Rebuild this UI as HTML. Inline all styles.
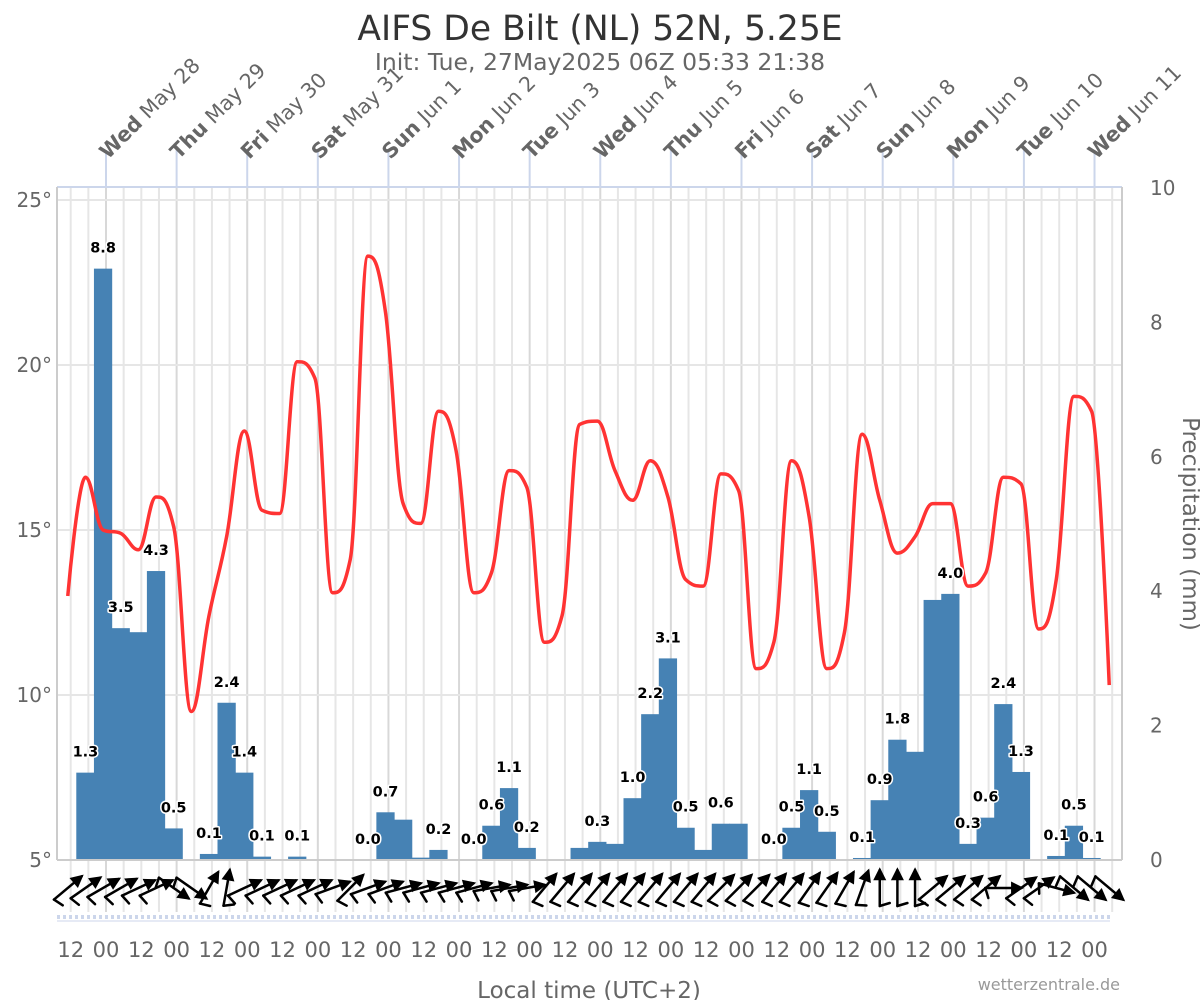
<!DOCTYPE html>
<html><head><meta charset="utf-8">
<style>
html,body{margin:0;padding:0;background:#fff;}
svg text{font-family:"DejaVu Sans","Liberation Sans",sans-serif;}
</style></head>
<body>
<svg id="chart" width="1200" height="1000" viewBox="0 0 1200 1000" xmlns="http://www.w3.org/2000/svg">
  <text x="600" y="40" text-anchor="middle" font-size="34.5" fill="#333">AIFS De Bilt (NL) 52N, 5.25E</text>
  <text x="600" y="70" text-anchor="middle" font-size="23.5" fill="#666">Init: Tue, 27May2025 06Z 05:33 21:38</text>
  <g id="grid"></g>
  <g id="bars"></g>
  <g id="line"></g>
  <g id="labels"></g>
  <g id="wind"></g>
  <g id="axes"></g>
  <text x="589" y="998" text-anchor="middle" font-size="23" fill="#666">Local time (UTC+2)</text>
  <text x="1120" y="990" text-anchor="end" font-size="16" fill="#999">wetterzentrale.de</text>
  <text x="1183" y="524" text-anchor="middle" font-size="23" fill="#666" transform="rotate(90 1183 524)">Precipitation (mm)</text>
</svg>
<script>
const dayNames = ["Wed","Thu","Fri","Sat","Sun","Mon","Tue","Wed","Thu","Fri","Sat","Sun","Mon","Tue","Wed"];
const dayDates = ["May 28","May 29","May 30","May 31","Jun 1","Jun 2","Jun 3","Jun 4","Jun 5","Jun 6","Jun 7","Jun 8","Jun 9","Jun 10","Jun 11"];
const tempTicks = [5,10,15,20,25];
const precipTicks = [0,2,4,6,8,10];
const precipValues = [1.3,8.8,3.45,3.39,4.3,0.47,0,0.09,2.34,1.3,0.05,0,0.05,0,0,0,0,0.71,0.6,0.035,0.15,0,0,0.51,1.07,0.18,0,0,0.18,0.27,0.24,0.92,2.17,3.0,0.48,0.15,0.54,0.54,0,0,0.48,1.04,0.42,0,0.03,0.89,1.79,1.61,3.87,3.96,0.24,0.63,2.32,1.31,0,0.06,0.51,0.03];
const precipLabels = ["1.3","8.8","3.5",null,"4.3","0.5",null,"0.1","2.4","1.4","0.1",null,"0.1",null,null,null,"0.0","0.7",null,null,"0.2",null,"0.0","0.6","1.1","0.2",null,null,null,"0.3",null,"1.0","2.2","3.1","0.5",null,"0.6",null,null,"0.0","0.5","1.1","0.5",null,"0.1","0.9","1.8",null,null,"4.0","0.3","0.6","2.4","1.3",null,"0.1","0.5","0.1"];
const tempValues = [13.0,16.6,15.0,14.9,14.4,16.0,15.1,9.5,12.4,14.8,18.0,15.6,15.5,20.1,19.6,13.1,14.1,23.3,21.6,15.8,15.2,18.6,17.4,13.1,13.7,16.8,16.3,11.6,12.4,18.2,18.3,16.8,15.9,17.1,16.0,13.5,13.3,16.7,16.2,10.8,11.6,17.1,15.4,10.8,11.9,17.9,15.9,14.3,14.8,15.8,15.8,13.3,13.7,16.6,16.4,12.0,13.5,19.05,18.6,10.3];
const windDir = [40,35,30,30,25,25,-35,-35,60,80,25,25,25,25,25,20,45,20,20,15,15,15,15,15,10,10,10,50,50,50,50,50,50,50,50,50,50,45,45,45,50,50,55,55,60,70,90,90,90,40,40,40,40,0,35,35,-15,-40,-40,-40];

const NS="http://www.w3.org/2000/svg";
function X(h){return 35.4+2.942*h;}
function YT(t){return 860-(t-5)*33.0;}
function YP(p){return 860-p*67.2;}
function mk(tag,attrs,parent){const e=document.createElementNS(NS,tag);for(const k in attrs)e.setAttribute(k,attrs[k]);parent.appendChild(e);return e;}
const grid=document.getElementById('grid'),axes=document.getElementById('axes');
const L=57,R=1122,T=187,B=860;

for(let h=12;X(h)<R;h+=6){
  const x=X(h);
  const ln=mk('line',{x1:x,y1:T,x2:x,y2:912,stroke:(h%24===0)?'#d8d8d8':'#e6e6e6','stroke-width':2},grid);
  
  
}
tempTicks.forEach(t=>{
  const y=YT(t);
  const ln=mk('line',{x1:L,y1:y,x2:R,y2:y,stroke:'#e6e6e6','stroke-width':2},grid);
  
  
  const tx=mk('text',{x:52,y:y+7,'text-anchor':'end','font-size':20,fill:'#666'},axes);
  tx.textContent=t+'°';
  
  
});
precipTicks.forEach(p=>{
  const y=YP(p);
  const tx=mk('text',{x:1150,y:y+7,'text-anchor':'start','font-size':20,fill:'#666'},axes);
  tx.textContent=p;
  
  
});
mk('line',{x1:L,y1:T,x2:R,y2:T,stroke:'#ccd6eb','stroke-width':2},axes);
mk('line',{x1:L,y1:T,x2:L,y2:B,stroke:'#ccc','stroke-width':2},axes);
mk('line',{x1:R,y1:T,x2:R,y2:B,stroke:'#ccc','stroke-width':2},axes);
mk('line',{x1:L,y1:B,x2:R,y2:B,stroke:'#ccc','stroke-width':2},axes);
mk('line',{x1:L,y1:917,x2:1110,y2:917,stroke:'#ccd6eb','stroke-width':4,'stroke-dasharray':'3,3'},axes);
mk('line',{x1:L,y1:921,x2:1110,y2:921,stroke:'#ccd6eb','stroke-width':1},axes);
dayNames.forEach((d,i)=>{
  const x=X(24*(i+1));
  const tk=mk('line',{x1:x,y1:150,x2:x,y2:T,stroke:'#ccd6eb','stroke-width':2},axes);
  
  
  const tx=mk('text',{x:x+2,y:160,'font-size':20.5,fill:'#666',transform:`rotate(-45 ${x+2} 160)`},axes);
  
  
  const b=mk('tspan',{'font-weight':'bold'},tx);b.textContent=d;
  const s=mk('tspan',{},tx);s.textContent=' '+dayDates[i];
});
for(let h=12;h<=24*15;h+=12){
  const tx=mk('text',{x:X(h),y:957,'text-anchor':'middle','font-size':21,fill:'#666'},axes);
  tx.textContent=(h%24===0)?'00':'12';
  
  
}
const bars=document.getElementById('bars'),labels=document.getElementById('labels');
precipValues.forEach((v,i)=>{
  const x0=X(14+6*i),x1=X(20+6*i),y=YP(v);
  if(v>0){
    const r=mk('rect',{x:x0-0.3,y:y,width:x1-x0+0.6,height:B-y,fill:'#4682b4'},bars);
    
    
  }
  if(precipLabels[i]){
    const tx=mk('text',{x:(x0+x1)/2,y:y-16,'text-anchor':'middle','font-size':14.5,'font-weight':'bold',fill:'#000',stroke:'#fff','stroke-width':3,'paint-order':'stroke','stroke-linejoin':'round'},labels);
    tx.textContent=precipLabels[i];
    
    
  }
});
const pts=tempValues.map((t,k)=>[X(11+6*k),YT(t)]);
function cont(i){
  const p=pts[i],l=pts[i-1],n=pts[i+1];
  if(!l||!n)return [p[0],p[1],p[0],p[1]];
  const s=1.5,d=2.5;
  let lx=(s*p[0]+l[0])/d,ly=(s*p[1]+l[1])/d,rx=(s*p[0]+n[0])/d,ry=(s*p[1]+n[1])/d;
  if(rx!==lx){const c=((ry-ly)*(rx-p[0]))/(rx-lx)+p[1]-ry;ly+=c;ry+=c;}
  if(ly>l[1]&&ly>p[1]){ly=Math.max(l[1],p[1]);ry=2*p[1]-ly;}
  else if(ly<l[1]&&ly<p[1]){ly=Math.min(l[1],p[1]);ry=2*p[1]-ly;}
  if(ry>n[1]&&ry>p[1]){ry=Math.max(n[1],p[1]);ly=2*p[1]-ry;}
  else if(ry<n[1]&&ry<p[1]){ry=Math.min(n[1],p[1]);ly=2*p[1]-ry;}
  return [lx,ly,rx,ry];
}
const cs=pts.map((_,i)=>cont(i));
let d=`M${pts[0][0]},${pts[0][1]}`;
for(let i=1;i<pts.length;i++){
  d+=` C${cs[i-1][2]},${cs[i-1][3]} ${cs[i][0]},${cs[i][1]} ${pts[i][0]},${pts[i][1]}`;
}
const path=mk('path',{d:d,fill:'none',stroke:'#ff3333','stroke-width':3.5,'stroke-linejoin':'round'},document.getElementById('line'));


const wind=document.getElementById('wind');
windDir.forEach((a,k)=>{
  const cx=X(11+6*k),cy=888,len=36,r=a*Math.PI/180;
  const dx=Math.cos(r)*len/2,dy=-Math.sin(r)*len/2;
  const g=mk('g',{stroke:'#000','stroke-width':2.5,fill:'none','stroke-linecap':'round'},wind);
  
  
  const x1=cx-dx,y1=cy-dy,x2=cx+dx,y2=cy+dy;
  mk('line',{x1:x1,y1:y1,x2:x2,y2:y2},g);
  const ux=dx/(len/2),uy=dy/(len/2);
  const hx=x2-ux*9,hy=y2-uy*9;
  mk('polygon',{points:`${x2},${y2} ${hx-uy*4.5},${hy+ux*4.5} ${hx+uy*4.5},${hy-ux*4.5}`,fill:'#000'},g);
  mk('line',{x1:x1,y1:y1,x2:x1-uy*10+ux*3,y2:y1+ux*10+uy*3},g);
});
</script>
</body></html>
